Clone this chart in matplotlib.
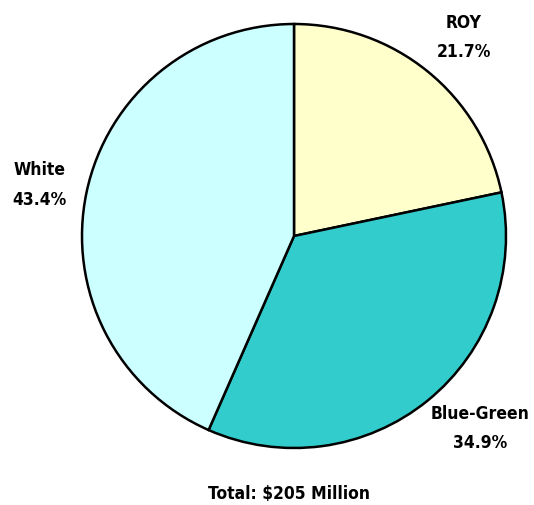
import matplotlib.pyplot as plt

categories = ['ROY', 'Blue-Green', 'White']
shares = [21.7, 34.9, 43.4]
colors = ['#FFFFCC', '#33CCCC', '#CCFFFF']
total_label = 'Total: $205 Million'

plt.rcParams['font.family'] = ['DejaVu Sans']

fig = plt.figure(figsize=(5.34, 5.06), dpi=100)
ax = fig.add_axes([82 / 534, 57 / 506, 424 / 534, 424 / 506])

ax.pie(shares, colors=colors, startangle=90, counterclock=False,
       wedgeprops=dict(edgecolor='black', linewidth=1.8))
ax.set_xlim(-1, 1)
ax.set_ylim(-1, 1)

txt = dict(fontsize=12.5, fontweight='bold', fontstretch='condensed')

# label positions in data units (pie radius = 1)
label_pos = [(0.80, 0.94), (0.88, -0.905), (-1.20, 0.245)]
for name, val, (x, y) in zip(categories, shares, label_pos):
    ax.text(x, y, f'{name}\n{val}%', ha='center', va='center',
            linespacing=1.8, **txt)

ax.text(-0.025, -1.21, total_label, ha='center', va='center',
        clip_on=False, **txt)

fig.savefig('out.png', dpi=100)
